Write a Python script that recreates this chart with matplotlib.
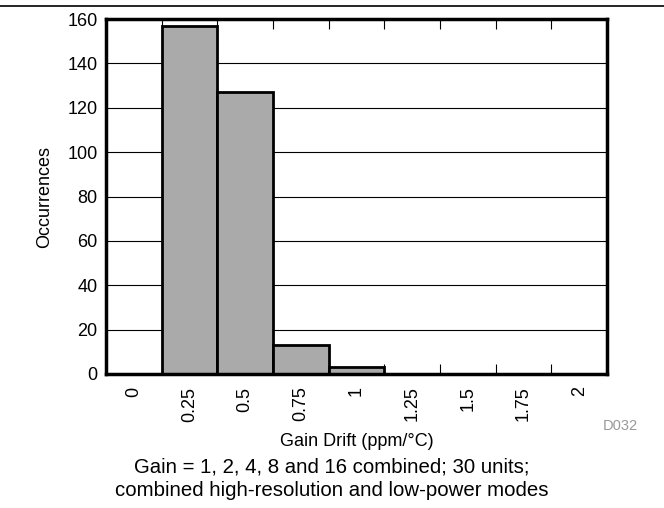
import matplotlib
matplotlib.use("Agg")
import matplotlib.pyplot as plt
from matplotlib.lines import Line2D

categories = ["0", "0.25", "0.5", "0.75", "1", "1.25", "1.5", "1.75", "2"]
occurrences = [0, 157, 127, 13, 3, 0, 0, 0, 0]
yticks = [0, 20, 40, 60, 80, 100, 120, 140, 160]

plt.rcParams['font.family'] = ['Liberation Sans', 'DejaVu Sans']

fig = plt.figure(figsize=(6.64, 5.08), dpi=100)
ax = fig.add_axes([106/664, 1-374/508, (607-106)/664, (374-19)/508])

x = list(range(len(categories)))
ax.set_axisbelow(True)
ax.yaxis.grid(True, color='black', linewidth=0.8)
ax.bar(x, occurrences, width=1.0, color='#aaaaaa', edgecolor='black', linewidth=2, zorder=2)

ax.set_xlim(-0.5, len(categories) - 0.5)
ax.set_ylim(0, 160)
ax.set_yticks(yticks)
ax.set_xticks(x)
ax.set_xticklabels(categories, rotation=90, fontsize=13)
ax.tick_params(axis='y', labelsize=13, length=0, pad=6)
ax.tick_params(axis='x', which='major', length=0, pad=9)
ax.set_xticks([i + 0.5 for i in x[:-1]], minor=True)
ax.tick_params(axis='x', which='minor', direction='in', top=True, bottom=True, length=7, width=0.8)

for s in ax.spines.values():
    s.set_linewidth(2.5)
    s.set_zorder(5)

ax.set_ylabel("Occurrences", fontsize=13, labelpad=10)
ax.set_xlabel("Gain Drift (ppm/\u00b0C)", fontsize=13, labelpad=8)

fig.text(620/664, 1-426/508, "D032", fontsize=10.5, color='#999999', ha='center', va='center')
fig.text(332/664, 1-467/508, "Gain = 1, 2, 4, 8 and 16 combined; 30 units;", fontsize=14.7, ha='center', va='center')
fig.text(332/664, 1-490/508, "combined high-resolution and low-power modes", fontsize=14.7, ha='center', va='center')

fig.add_artist(Line2D([0, 1], [1-6/508, 1-6/508], color='black', linewidth=1.2, transform=fig.transFigure))

fig.savefig("out.png", dpi=100)
